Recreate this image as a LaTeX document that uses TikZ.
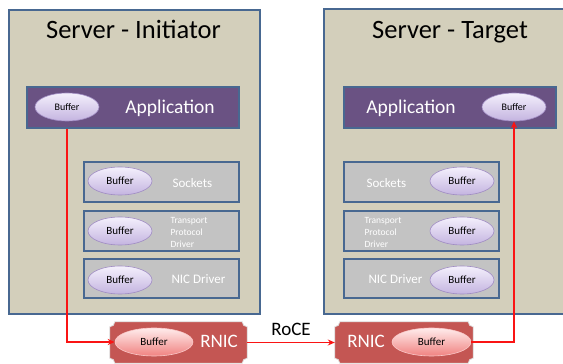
\documentclass[tikz,border=0pt]{standalone}
\usepackage{fontspec}
\setmainfont{Carlito}
\usetikzlibrary{shapes.geometric,arrows.meta}
\definecolor{tanbg}{RGB}{211,207,187}
\definecolor{bordercol}{RGB}{72,104,145}
\definecolor{purp}{RGB}{106,82,131}
\definecolor{grayl}{RGB}{195,195,195}
\definecolor{buftop}{RGB}{244,240,252}
\definecolor{bufbot}{RGB}{196,180,224}
\definecolor{bufedge}{RGB}{160,140,195}
\definecolor{rniccol}{RGB}{196,86,83}
\definecolor{rbuftop}{RGB}{255,236,236}
\definecolor{rbufbot}{RGB}{240,130,128}
\definecolor{rbufedge}{RGB}{250,200,200}
\definecolor{redline}{RGB}{250,20,20}
\newcommand\plaque[1]{%
  \path[fill=rniccol,draw=gray!25,line width=0.8pt]
    ([xshift=5pt]#1.north west) -- ([xshift=-5pt]#1.north east)
    arc[start angle=180,end angle=270,radius=5pt]
    -- ([yshift=5pt]#1.south east)
    arc[start angle=90,end angle=180,radius=5pt]
    -- ([xshift=5pt]#1.south west)
    arc[start angle=0,end angle=90,radius=5pt]
    -- ([yshift=-5pt]#1.north west)
    arc[start angle=270,end angle=360,radius=5pt] -- cycle;}
\tikzset{
  server/.style={draw=bordercol,line width=1.5pt,fill=tanbg},
  appbar/.style={draw=bordercol,line width=1.2pt,fill=purp},
  layer/.style={draw=bordercol,line width=1.5pt,fill=grayl},
  buf/.style={ellipse,draw=bufedge,line width=0.6pt,top color=buftop,bottom color=bufbot,
    inner sep=0pt,minimum width=64pt,minimum height=28pt,font=\fontsize{11}{12}\selectfont},
  rbuf/.style={ellipse,draw=rbufedge,line width=0.6pt,top color=rbuftop,bottom color=rbufbot,
    inner sep=0pt,minimum width=78pt,minimum height=28pt,font=\fontsize{11}{12}\selectfont},
  rnicbox/.style={rectangle,inner sep=0pt,minimum width=137pt,minimum height=41pt},
  title/.style={font=\fontsize{26.5}{30}\selectfont,anchor=base},
  apptext/.style={font=\fontsize{19.5}{22}\selectfont,text=white,anchor=base},
  laytext/.style={font=\fontsize{13}{15}\selectfont,text=white,anchor=base west},
  smalltext/.style={font=\fontsize{9.5}{11.7}\selectfont,text=white,align=left,anchor=north west},
  rnictext/.style={font=\fontsize{19}{22}\selectfont,text=white,anchor=base},
  conn/.style={draw=redline,line width=1.4pt,-{Stealth[length=7pt,width=6pt]}}
}
\begin{document}
\begin{tikzpicture}[x=1pt,y=1pt]
\useasboundingbox (0,0) rectangle (563,364);
\clip (0,0) rectangle (563,364);
% server boxes
\node[server,rectangle,inner sep=0pt,minimum width=251pt,minimum height=304pt] (srvL) at (134.5,202) {};
\node[server,rectangle,inner sep=0pt,minimum width=250pt,minimum height=305pt] (srvR) at (449,202.5) {};
\node[title] (titleL) at (133.5,325) {Server - Initiator};
\node[title] (titleR) at (450,325) {Server - Target};
% application bars
\node[appbar,rectangle,inner sep=0pt,minimum width=212pt,minimum height=41pt] (appL) at (133,256.5) {};
\node[appbar,rectangle,inner sep=0pt,minimum width=212pt,minimum height=41pt] (appR) at (450,256.5) {};
\node[apptext] (apptxtL) at (170,250) {Application};
\node[apptext] (apptxtR) at (411,250) {Application};
% layers left
\node[layer,rectangle,inner sep=0pt,minimum width=155pt,minimum height=40pt] (sockL) at (161.5,182) {};
\node[layer,rectangle,inner sep=0pt,minimum width=155pt,minimum height=40pt] (tpL) at (161.5,133) {};
\node[layer,rectangle,inner sep=0pt,minimum width=155pt,minimum height=39pt] (nicL) at (161.5,85.5) {};
% layers right
\node[layer,rectangle,inner sep=0pt,minimum width=155pt,minimum height=40pt] (sockR) at (421.5,182) {};
\node[layer,rectangle,inner sep=0pt,minimum width=155pt,minimum height=40pt] (tpR) at (421.5,133) {};
\node[layer,rectangle,inner sep=0pt,minimum width=155pt,minimum height=39pt] (nicR) at (421.5,85.5) {};
% layer texts
\node[laytext] (socktxtL) at (169,176) {Sockets};
\node[laytext] (socktxtR) at (363,176) {Sockets};
\node[smalltext] (tptxtL) at (167,150) {Transport\\Protocol\\Driver};
\node[smalltext] (tptxtR) at (361,150) {Transport\\Protocol\\Driver};
\node[laytext] (nictxtL) at (168,80) {NIC Driver};
\node[laytext] (nictxtR) at (365,80) {NIC Driver};
% buffers
\node[buf,font=\fontsize{10}{12}\selectfont] (appbufL) at (67,257) {Buffer};
\node[buf,font=\fontsize{10}{12}\selectfont] (appbufR) at (514,257) {Buffer};
\node[buf] (sockbufL) at (120,183) {Buffer};
\node[buf] (tpbufL) at (120,133) {Buffer};
\node[buf] (nicbufL) at (120,84) {Buffer};
\node[buf] (sockbufR) at (462,183) {Buffer};
\node[buf] (tpbufR) at (462,133) {Buffer};
\node[buf] (nicbufR) at (462,84) {Buffer};
% RNICs
\node[rnicbox] (rnicL) at (178.5,21.5) {};
\node[rnicbox,minimum width=138pt] (rnicR) at (404,21.5) {};
\plaque{rnicL}
\plaque{rnicR}
\node[rbuf] (rbufL) at (154,22) {Buffer};
\node[rbuf,minimum width=79pt] (rbufR) at (431.5,22) {Buffer};
\node[rnictext] (rnictxtL) at (219,16) {RNIC};
\node[rnictext] (rnictxtR) at (366,16) {RNIC};
\node[font=\fontsize{19}{22}\selectfont,anchor=base] (roce) at (291,28) {RoCE};
% connectors
\draw[conn] (appbufL.center |- appL.south) -- (appbufL.center |- rbufL.west) -- (rbufL.west);
\draw[conn] (rnicL.east) -- (rnicR.west);
\draw[conn] (rbufR.east) -- (appbufR.center |- rbufR.east) -- (appbufR.south);
\end{tikzpicture}
\end{document}
